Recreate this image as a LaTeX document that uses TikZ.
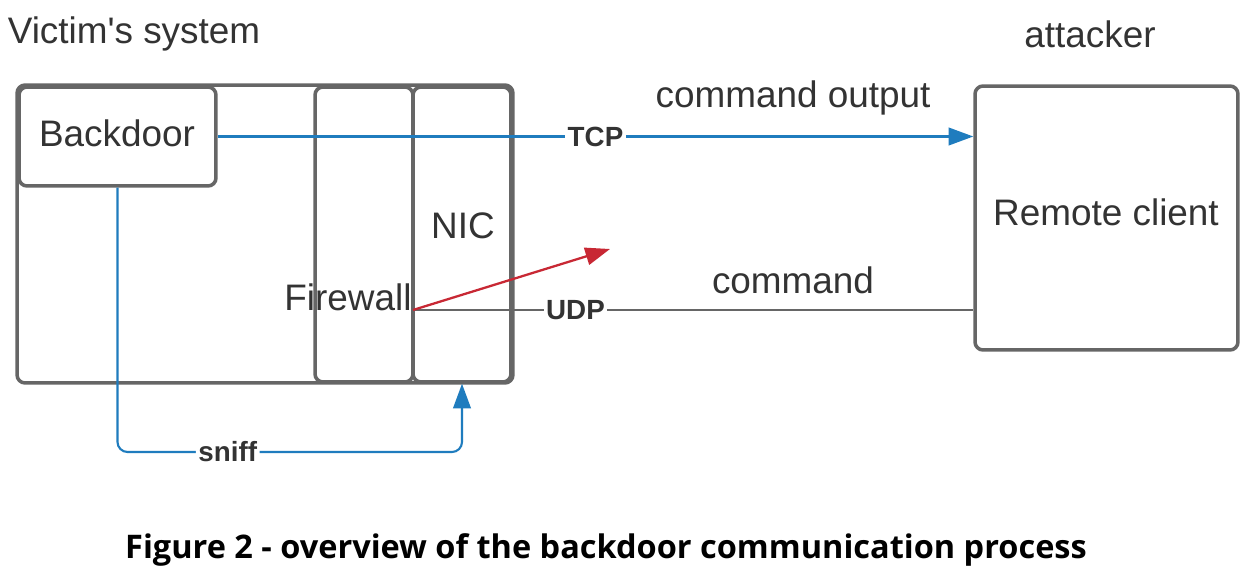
\documentclass[tikz,border=0pt]{standalone}
\usepackage{fontspec}
\setmainfont{Liberation Sans}
\newfontfamily\capfont{Open Sans}
\usetikzlibrary{arrows.meta}
\definecolor{boxgray}{RGB}{102,102,102}
\definecolor{txtgray}{RGB}{51,51,51}
\definecolor{lineblue}{RGB}{31,124,190}
\definecolor{linered}{RGB}{200,40,52}
\tikzset{
  box/.style={draw=boxgray, line width=2pt, rounded corners=0.16cm, inner sep=0pt, fill=none},
  bigtxt/.style={font=\fontsize{21}{24}\selectfont, text=txtgray, inner sep=0pt},
  lbl/.style={font=\bfseries\fontsize{15.8}{18}\selectfont, text=txtgray, fill=white, inner sep=1.5pt},
  blueline/.style={draw=lineblue, line width=1.2pt},
  grayline/.style={draw=boxgray, line width=1.2pt},
  redline/.style={draw=linered, line width=1.3pt},
  tip/.style={-{Triangle[length=14pt,width=10pt]}}
}
\begin{document}
\begin{tikzpicture}[x=0.02cm,y=-0.02cm]
\useasboundingbox[fill=white] (0,0) rectangle (1259,581);
% boxes
\node[box, minimum width=9.92cm, minimum height=5.96cm] (victim) at (265,234) {};
\node[box, fill=white, minimum width=3.94cm, minimum height=1.98cm] (backdoor) at (117.5,136.5) {};
\node[box, minimum width=1.96cm, minimum height=5.9cm] (firewall) at (364,234.5) {};
\node[box, minimum width=1.96cm, minimum height=5.9cm] (nic) at (462,234.5) {};
\node[box, minimum width=5.26cm, minimum height=5.28cm] (remote) at (1106.5,218) {};
% texts
\node[bigtxt] (victimtxt) at (134,34) {Victim\textquotesingle s system};
\node[bigtxt] (attackertxt) at (1090,34) {attacker};
\node[bigtxt] (backdoortxt) at (117,133) {Backdoor};
\node[bigtxt] (nictxt) at (463,226) {NIC};
\node[bigtxt] (firewalltxt) at (348,297) {Firewall};
\node[bigtxt] (remotetxt) at (1106,212) {Remote client};
\node[bigtxt] (cmdout) at (793,98) {command output};
\node[bigtxt] (cmd) at (793,280) {command};
% connectors
\coordinate (fw) at (413,310);
\coordinate (redend) at (610,249);
\coordinate (sn) at (0,452);
\draw[blueline, tip] (backdoor.east) -- node[lbl, pos=0.5] {TCP} (remote.west |- backdoor.east);
\draw[grayline] (fw) -- node[lbl, pos=0.29] {UDP} (remote.west |- fw);
\draw[redline, tip, draw=linered, fill=linered] (fw) -- (redend);
\draw[blueline, tip, rounded corners=0.2cm] (backdoor.south) -- (backdoor.south |- sn) -- node[lbl, pos=0.32] {sniff} (nic.south |- sn) -- (nic.south);
% caption
\node[font=\capfont\bfseries\fontsize{18.5}{22}\selectfont, text=black, inner sep=0pt] (caption) at (606,550) {Figure 2 - overview of the backdoor communication process};
\end{tikzpicture}
\end{document}
